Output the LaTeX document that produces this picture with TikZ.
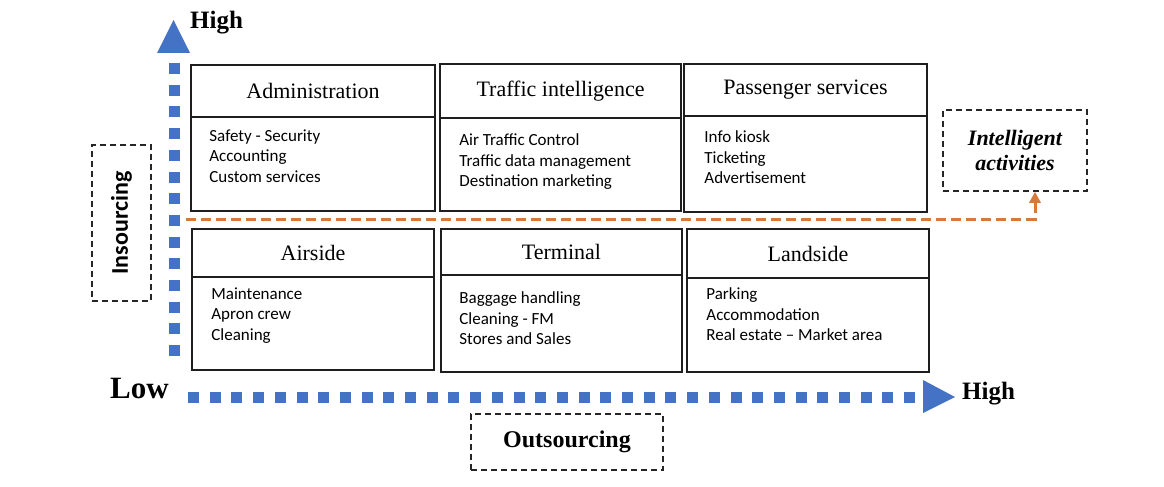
\documentclass[tikz,border=0pt]{standalone}
\usepackage{fontspec}
\setmainfont{Liberation Serif}
\newfontfamily\bodyfont{Carlito}
\usetikzlibrary{arrows.meta}
\definecolor{axisblue}{RGB}{68,114,196}
\definecolor{linkorange}{RGB}{214,122,60}
\definecolor{boxline}{RGB}{30,30,30}
\tikzset{
  hdr/.style={draw=boxline, line width=1.6pt, inner sep=0pt, font=\fontsize{22}{26}\selectfont},
  bodybox/.style={draw=boxline, line width=1.6pt, inner sep=0pt},
  bodytxt/.style={anchor=north west, inner sep=0pt, align=left, font=\bodyfont\fontsize{17}{20.8}\selectfont},
  dbox/.style={draw=black!85, line width=1.5pt, dash pattern=on 6pt off 4pt, inner sep=0pt},
  axisline/.style={axisblue, line width=11pt, dash pattern=on 11pt off 10.7pt},
  axistip/.style={fill=axisblue, draw=none},
  link/.style={linkorange, line width=3pt, dash pattern=on 10pt off 5pt, -{Triangle[length=11pt,width=11pt]}},
  axlabel/.style={font=\bfseries\fontsize{25}{30}\selectfont, inner sep=0pt},
}
\begin{document}
\begin{tikzpicture}[x=1pt,y=-1pt]
\useasboundingbox (0,0) rectangle (1164,487);

% ---- blue axes ----
\coordinate (vtop) at (174,63);
\coordinate (vbot) at (174,362);
\draw[axisline] (vtop) -- (vbot);
\fill[axistip] (157,53) -- (190,53) -- (173.5,20) -- cycle;
\coordinate (hleft) at (188,397);
\coordinate (hright) at (923,397);
\draw[axisline] (hleft) -- (hright);
\fill[axistip] (923,380) -- (955,397) -- (923,413) -- cycle;

\node[axlabel, anchor=base west] (hightop) at (190,29) {High};
\node[axlabel, anchor=base west] (highright) at (962,399) {High};
\node[font=\bfseries\fontsize{31}{36}\selectfont, inner sep=0pt, anchor=base west] (low) at (110,398) {Low};

% ---- cells ----
\node[hdr, minimum width=244pt, minimum height=52pt] (admh) at (313,91) {Administration};
\node[bodybox, minimum width=244pt, minimum height=94pt] (admb) at (313,164) {};
\node[bodytxt] (admt) at ([xshift=19pt,yshift=-13pt]admb.north west) {Safety - Security\\Accounting\\Custom services};

\node[hdr, minimum width=241pt, minimum height=54pt] (trah) at (560.5,91) {Traffic intelligence};
\node[bodybox, minimum width=241pt, minimum height=93pt] (trab) at (560.5,164.5) {};
\node[bodytxt] (trat) at ([xshift=20pt,yshift=-16pt]trab.north west) {Air Traffic Control\\Traffic data management\\Destination marketing};

\node[hdr, minimum width=243pt, minimum height=52pt] (pash) at (805.5,90) {Passenger services};
\node[bodybox, minimum width=243pt, minimum height=96pt] (pasb) at (805.5,164) {};
\node[bodytxt] (past) at ([xshift=21pt,yshift=-15pt]pasb.north west) {Info kiosk\\Ticketing\\Advertisement};

\node[hdr, minimum width=242pt, minimum height=48pt] (airh) at (313,253) {Airside};
\node[bodybox, minimum width=242pt, minimum height=93pt] (airb) at (313,323.5) {};
\node[bodytxt] (airt) at ([xshift=20pt,yshift=-11pt]airb.north west) {Maintenance\\Apron crew\\Cleaning};

\node[hdr, minimum width=241pt, minimum height=46pt] (terh) at (561.5,252) {Terminal};
\node[bodybox, minimum width=241pt, minimum height=97pt] (terb) at (561.5,323.5) {};
\node[bodytxt] (tert) at ([xshift=19pt,yshift=-17pt]terb.north west) {Baggage handling\\Cleaning - FM\\Stores and Sales};

\node[hdr, minimum width=242pt, minimum height=49pt] (lanh) at (808,253.5) {Landside};
\node[bodybox, minimum width=242pt, minimum height=94pt] (lanb) at (808,325) {};
\node[bodytxt] (lant) at ([xshift=20pt,yshift=-10pt]lanb.north west) {Parking\\Accommodation\\Real estate – Market area};

% ---- dashed label boxes ----
\node[dbox, minimum width=59pt, minimum height=156pt] (insbox) at (121.5,223) {};
\node[rotate=90, inner sep=0pt, font=\bodyfont\bfseries\fontsize{24}{28}\selectfont] (instxt) at (insbox.center) {Insourcing};

\node[dbox, minimum width=192pt, minimum height=56pt, font=\bfseries\fontsize{24}{28}\selectfont] (outbox) at (567,442) {Outsourcing};

\node[dbox, minimum width=144pt, minimum height=81pt, align=center, font=\bfseries\itshape\fontsize{22}{25}\selectfont] (intbox) at (1015,150.5) {Intelligent\\activities};

% ---- orange link ----
\coordinate (ostart) at (186,219);
\coordinate (ocorner) at (1035,219);
\draw[link] (ostart) -- (ocorner) -- (ocorner |- intbox.south);
\end{tikzpicture}
\end{document}
